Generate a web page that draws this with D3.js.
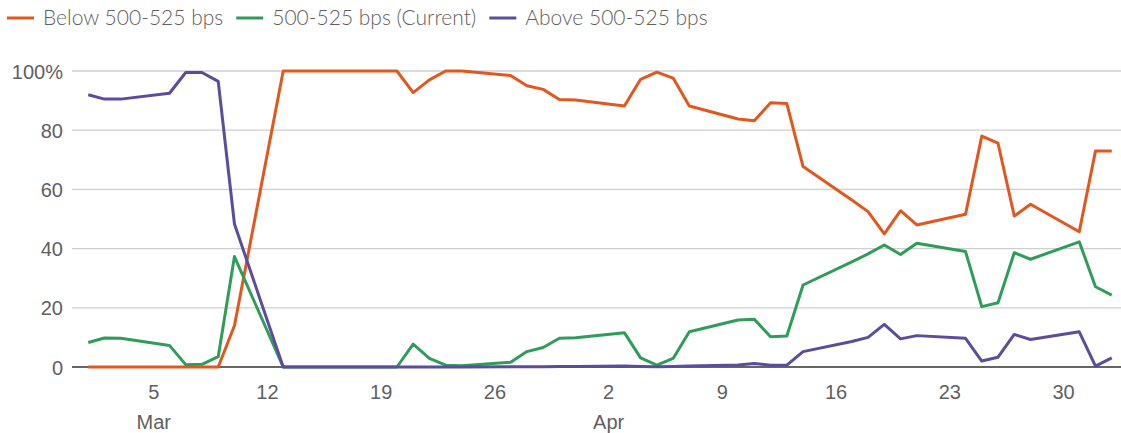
<!DOCTYPE html>
<html>
<head>
<meta charset="utf-8">
<script src="https://cdn.jsdelivr.net/npm/d3@7"></script>
<style>
  html, body { margin: 0; padding: 0; background: #fff; }
  svg { display: block; font-family: "Source Sans Pro", Lato, "Open Sans", sans-serif; font-weight: 300; }
</style>
</head>
<body>
<svg id="chart" width="1121" height="433"></svg>
<script>
// Trading days, 1 Mar – 3 May 2023
const dates = [
  "2023-03-01","2023-03-02","2023-03-03","2023-03-06","2023-03-07","2023-03-08","2023-03-09","2023-03-10",
  "2023-03-13","2023-03-14","2023-03-15","2023-03-16","2023-03-17",
  "2023-03-20","2023-03-21","2023-03-22","2023-03-23","2023-03-24",
  "2023-03-27","2023-03-28","2023-03-29","2023-03-30","2023-03-31",
  "2023-04-03","2023-04-04","2023-04-05","2023-04-06","2023-04-07",
  "2023-04-10","2023-04-11","2023-04-12","2023-04-13","2023-04-14",
  "2023-04-17","2023-04-18","2023-04-19","2023-04-20","2023-04-21",
  "2023-04-24","2023-04-25","2023-04-26","2023-04-27","2023-04-28",
  "2023-05-01","2023-05-02","2023-05-03"
];

// Probability (%) of the target range after the May meeting
const below = [
  0, 0, 0, 0, 0, 0, 0, 14,
  100, 100, 100, 100, 100,
  100, 92.7, 97, 100, 100,
  98.5, 95, 93.8, 90.4, 90.2,
  88.2, 97.2, 99.6, 97.6, 88.2,
  83.8, 83.2, 89.3, 89, 67.7,
  56.4, 52.5, 45, 52.8, 48,
  51.6, 78, 75.6, 51, 55,
  45.7, 73, 73
];
const current = [
  8.3, 9.8, 9.7, 7.3, 0.8, 0.9, 3.5, 37.3,
  0, 0, 0, 0, 0,
  0, 7.7, 2.9, 0.6, 0.4,
  1.6, 5.2, 6.6, 9.7, 9.9,
  11.6, 3.1, 0.6, 2.9, 11.9,
  15.9, 16.1, 10.2, 10.5, 27.7,
  35.5, 38.2, 41.2, 38, 41.8,
  39, 20.4, 21.7, 38.6, 36.4,
  42.3, 27.1, 24.3
];
const above = [
  92, 90.5, 90.5, 92.5, 99.5, 99.5, 96.5, 48.3,
  0, 0, 0, 0, 0,
  0, 0, 0, 0, 0,
  0.1, 0.1, 0.1, 0.2, 0.2,
  0.3, 0.2, 0.1, 0.2, 0.3,
  0.7, 1.2, 0.6, 0.6, 5.2,
  8.6, 10, 14.4, 9.5, 10.6,
  9.7, 2, 3.3, 11, 9.3,
  11.9, 0.3, 3.1
];

const seriesNames = ["Below 500-525 bps", "500-525 bps (Current)", "Above 500-525 bps"];
const seriesColors = ["#e0581e", "#2f9d59", "#5b4c9f"];
const yTicks = [0, 20, 40, 60, 80, 100];
const xTickDates = ["2023-03-05","2023-03-12","2023-03-19","2023-03-26","2023-04-02","2023-04-09","2023-04-16","2023-04-23","2023-04-30"];
const monthLabels = { "2023-03-05": "Mar", "2023-04-02": "Apr" };

const W = 1121, H = 433;
const svg = d3.select("#chart");
const parse = d3.utcParse("%Y-%m-%d");
const fmtKey = d3.utcFormat("%Y-%m-%d");
const dayPx = 16.246;
const plotLeft = 72, plotTop = 71, plotBottom = 367;
const textColor = "#5f5f5f";

const x = d3.scaleUtc()
  .domain([parse("2023-02-28"), parse("2023-05-04")])
  .range([plotLeft, plotLeft + 65 * dayPx]);
const y = d3.scaleLinear().domain([0, 100]).range([plotBottom, plotTop]);

// Gridlines
svg.append("g").selectAll("line")
  .data(yTicks.filter(d => d !== 0))
  .join("line")
  .attr("x1", plotLeft).attr("x2", W)
  .attr("y1", d => y(d)).attr("y2", d => y(d))
  .attr("stroke", "#cfcfcf").attr("stroke-width", 1.3);

// Y axis labels
const yAxis = d3.axisLeft(y).tickValues(yTicks).tickSize(0).tickPadding(0)
  .tickFormat(d => d === 100 ? "100%" : d);
svg.append("g")
  .attr("transform", `translate(63,0)`)
  .call(yAxis)
  .call(g => g.select(".domain").remove())
  .call(g => g.selectAll("text")
    .attr("font-size", 20).attr("fill", textColor).attr("font-family", null).attr("dy", "0.35em"));

// X axis labels (day, with month name beneath)
const xAxis = d3.axisBottom(x).tickValues(xTickDates.map(parse)).tickSize(0).tickPadding(0)
  .tickFormat(d3.utcFormat("%-d"));
const xg = svg.append("g")
  .attr("transform", `translate(0,${plotBottom})`)
  .call(xAxis)
  .call(g => g.select(".domain").remove());
xg.selectAll("text")
  .attr("font-size", 20).attr("fill", textColor).attr("font-family", null)
  .attr("y", 25).attr("dy", "0.35em");
xg.selectAll(".tick")
  .filter(d => monthLabels[fmtKey(d)])
  .append("text")
  .attr("y", 55).attr("dy", "0.35em")
  .attr("text-anchor", "middle")
  .attr("font-size", 20).attr("fill", textColor)
  .text(d => monthLabels[fmtKey(d)]);

// Zero baseline
svg.append("line")
  .attr("x1", plotLeft).attr("x2", W)
  .attr("y1", y(0)).attr("y2", y(0))
  .attr("stroke", "#333").attr("stroke-width", 1.3);

// Lines
const allSeries = [below, current, above];
const line = d3.line()
  .x((d, i) => x(parse(dates[i])))
  .y(d => y(d));
svg.append("g").selectAll("path")
  .data(allSeries)
  .join("path")
  .attr("d", d => line(d))
  .attr("fill", "none")
  .attr("stroke", (d, i) => seriesColors[i])
  .attr("stroke-width", 3)
  .attr("stroke-linejoin", "round");

// Legend
const legend = svg.append("g").attr("transform", "translate(0,18)");
let lx = 7;
seriesNames.forEach((name, i) => {
  legend.append("line")
    .attr("x1", lx).attr("x2", lx + 27)
    .attr("y1", 0).attr("y2", 0)
    .attr("stroke", seriesColors[i]).attr("stroke-width", 3);
  const t = legend.append("text")
    .attr("x", lx + 36).attr("y", 0).attr("dy", "0.35em")
    .attr("font-size", 21).attr("fill", textColor)
    .text(name);
  lx += 36 + t.node().getComputedTextLength() + 13;
});
</script>
</body>
</html>
